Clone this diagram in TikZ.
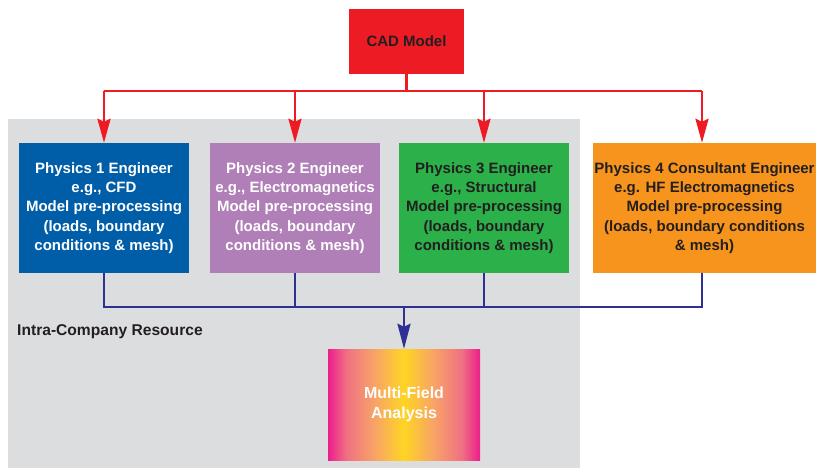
\documentclass[tikz,border=0pt]{standalone}
\usepackage{fontspec}
\setmainfont{Liberation Sans}
\usetikzlibrary{arrows.meta}
\definecolor{cadred}{RGB}{237,28,36}
\definecolor{bxblue}{RGB}{0,94,168}
\definecolor{bxpurple}{RGB}{176,127,184}
\definecolor{bxgreen}{RGB}{43,176,74}
\definecolor{bxorange}{RGB}{247,148,29}
\definecolor{bggray}{RGB}{220,221,223}
\definecolor{lnblue}{RGB}{46,49,146}
\definecolor{txdark}{RGB}{35,31,32}
\definecolor{mfmag}{RGB}{236,30,140}
\definecolor{mfpink}{RGB}{240,112,130}
\definecolor{mfpeach}{RGB}{247,162,104}
\definecolor{mfyel}{RGB}{255,213,35}
\pgfdeclarehorizontalshading{mfshade}{100bp}{color(0bp)=(mfmag); color(25bp)=(mfmag); color(31bp)=(mfpink); color(40bp)=(mfpeach); color(50bp)=(mfyel); color(60bp)=(mfpeach); color(69bp)=(mfpink); color(75bp)=(mfmag); color(100bp)=(mfmag)}
\tikzset{
  txt/.style={font=\fontsize{15}{19.2}\selectfont\bfseries, align=center, inner sep=0pt},
  engbox/.style={txt, rectangle, minimum width=170pt, minimum height=130pt},
  redline/.style={draw=cadred, line width=2.6pt},
  redarrow/.style={redline, -{Stealth[length=24pt,width=13pt,inset=3pt]}},
  blueline/.style={draw=lnblue, line width=2.6pt},
  bluearrow/.style={blueline, -{Stealth[length=25pt,width=13pt,inset=3pt]}}
}
\begin{document}
\begin{tikzpicture}[x=1pt,y=-1pt]
\useasboundingbox (0,0) rectangle (816,469);
\fill[bggray] (8,119) rectangle (580,468);
\node[txt, rectangle, fill=cadred, text=txdark, minimum width=115pt, minimum height=65pt] (cad) at (406.5,41.5) {CAD Model};
\node[engbox, fill=bxblue, text=white] (b1) at (104,208) {Physics 1 Engineer\\e.g., CFD\\Model pre-processing\\(loads, boundary\\conditions \& mesh)};
\node[engbox, fill=bxpurple, text=white] (b2) at (295,208) {Physics 2 Engineer\\e.g., Electromagnetics\\Model pre-processing\\(loads, boundary\\conditions \& mesh)};
\node[engbox, fill=bxgreen, text=txdark] (b3) at (484,208) {Physics 3 Engineer\\e.g., Structural\\Model pre-processing\\(loads, boundary\\conditions \& mesh)};
\node[engbox, fill=bxorange, text=txdark, minimum width=223pt] (b4) at (704.5,208) {Physics 4 Consultant Engineer\\e.g. HF Electromagnetics\\Model pre-processing\\(loads, boundary conditions\\\& mesh)};
\shade[shading=mfshade] (328,349) rectangle (480,460);
\node[txt, font=\fontsize{16}{19.4}\selectfont\bfseries, rectangle, text=white, minimum width=152pt, minimum height=111pt] (mf) at (404,404.5) {Multi-Field\\Analysis};
\node[txt, font=\fontsize{15.6}{19.2}\selectfont\bfseries, anchor=base west, text=txdark] (intra) at (17,335) {Intra-Company Resource};
% red connectors
\coordinate (rj) at (406.5,91);
\draw[redline] (cad.south) -- (rj);
\draw[redline] (b1.north |- rj) -- ([xshift=-2.5pt]b4.north |- rj);
\draw[redarrow] (b1.north |- rj) -- (b1.north);
\draw[redarrow] (b2.north |- rj) -- (b2.north);
\draw[redarrow] (b3.north |- rj) -- (b3.north);
\draw[redarrow] ([xshift=-2.5pt]b4.north |- rj) -- ([xshift=-2.5pt]b4.north);
% blue connectors
\coordinate (bj) at (404,307);
\draw[blueline] (b1.south) -- (b1.south |- bj) -- ([xshift=-2.5pt]b4.south |- bj) -- ([xshift=-2.5pt]b4.south);
\draw[blueline] (b2.south) -- (b2.south |- bj);
\draw[blueline] (b3.south) -- (b3.south |- bj);
\draw[bluearrow] (bj) -- (mf.north);
\end{tikzpicture}
\end{document}
